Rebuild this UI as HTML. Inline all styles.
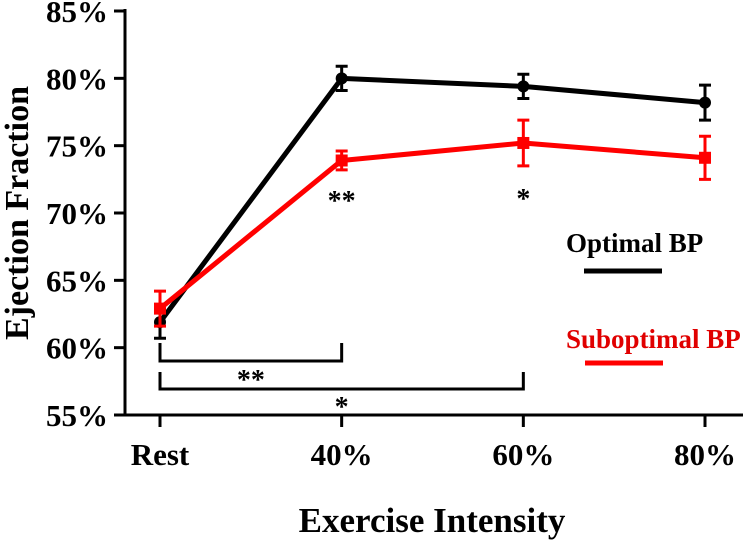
<!DOCTYPE html>
<html><head><meta charset="utf-8"><style>
html,body{margin:0;padding:0;background:#fff;}
svg text{font-family:"Liberation Serif",serif;font-weight:bold;}
</style></head><body>
<svg id="chart" width="745" height="541" viewBox="0 0 745 541" xmlns="http://www.w3.org/2000/svg">
<g id="axes"></g>
<g id="marks"></g>
<g id="annot"></g>
<text x="0" y="0" transform="translate(28,213) rotate(-90)" text-anchor="middle" font-size="34">Ejection Fraction</text>
<text x="432" y="532" text-anchor="middle" font-size="35">Exercise Intensity</text>
<g>
<text x="566" y="252" font-size="27">Optimal BP</text>
<line x1="584" y1="271" x2="662" y2="271" stroke="#000" stroke-width="5"/>
<text x="566" y="348" font-size="27" fill="#e00000">Suboptimal BP</text>
<line x1="585" y1="363" x2="663" y2="363" stroke="#f00" stroke-width="5"/>
</g>
</svg>
<script>
const categories=["Rest","40%","60%","80%"];
const optimalValues=[61.9,80.0,79.4,78.2];
const optimalErrors=[1.2,0.9,0.9,1.3];
const suboptimalValues=[62.9,73.9,75.2,74.1];
const suboptimalErrors=[1.3,0.7,1.7,1.6];
const yTicks=[55,60,65,70,75,80,85];
const NS="http://www.w3.org/2000/svg";
const xPos=[160,342,523,705];
function xs(i){return xPos[0]+(xPos[3]-xPos[0])*i/(categories.length-1);}
function ys(v){return 415-(v-55)*(404/30);}
function mk(tag,attrs,parent){const e=document.createElementNS(NS,tag);for(const k in attrs)e.setAttribute(k,attrs[k]);parent.appendChild(e);return e;}
const axes=document.getElementById('axes'),marks=document.getElementById('marks'),annot=document.getElementById('annot');
let e;
e=mk('line',{x1:125,y1:9,x2:125,y2:416,stroke:'#000','stroke-width':3},axes);


e=mk('line',{x1:114,y1:415,x2:743,y2:415,stroke:'#000','stroke-width':3},axes);


yTicks.forEach(t=>{
 const y=ys(t);
 e=mk('line',{x1:114,y1:y,x2:125,y2:y,stroke:'#000','stroke-width':3},axes);
 
 
 e=mk('text',{x:108,y:y+11,'text-anchor':'end','font-size':31},axes);
 e.textContent=t+'%';
 
 
});
categories.forEach((c,i)=>{
 const x=xs(i);
 e=mk('line',{x1:x,y1:415,x2:x,y2:427,stroke:'#000','stroke-width':3},axes);
 
 
 e=mk('text',{x:x,y:465,'text-anchor':'middle','font-size':31},axes);
 e.textContent=c;
 
 
});
function series(vals,errs,color,name,square){
 const g=mk('g',{},marks);
 
 
 e=mk('polyline',{points:vals.map((v,i)=>xs(i)+','+ys(v)).join(' '),fill:'none',stroke:color,'stroke-width':5,'stroke-linejoin':'round'},g);
 
 
 vals.forEach((v,i)=>{
  const x=xs(i),y1=ys(v+errs[i]),y2=ys(v-errs[i]);
  e=mk('path',{d:`M${x},${y1}V${y2}M${x-6},${y1}H${x+6}M${x-6},${y2}H${x+6}`,stroke:color,'stroke-width':3,fill:'none'},g);
  
  
  if(square){e=mk('rect',{x:x-6,y:ys(v)-6,width:12,height:12,fill:color},g);}
  else{e=mk('circle',{cx:x,cy:ys(v),r:6,fill:color},g);}
  
  
 });
}
series(optimalValues,optimalErrors,'#000','optimal-bp-series',false);
series(suboptimalValues,suboptimalErrors,'#f00','suboptimal-bp-series',true);
function bracket(i,j,yTop,yBot,label,ly,name){
 const a=xs(i),b=xs(j);
 e=mk('path',{d:`M${a},${yTop}V${yBot}H${b}V${yTop}`,stroke:'#000','stroke-width':3,fill:'none'},annot);
 
 
 e=mk('text',{x:(a+b)/2,y:ly,'text-anchor':'middle','font-size':28,'font-weight':'normal'},annot);
 e.textContent=label;
 
 
}
bracket(0,1,343,361,'**',389,'significance-bracket-rest-40');
bracket(0,2,372,389,'*',416,'significance-bracket-rest-60');
function star(i,y,label,name){
 e=mk('text',{x:xs(i),y:y,'text-anchor':'middle','font-size':28,'font-weight':'normal'},annot);
 e.textContent=label;
 
 
}
star(1,210,'**','significance-40');
star(2,208,'*','significance-60');
</script>
</body></html>
